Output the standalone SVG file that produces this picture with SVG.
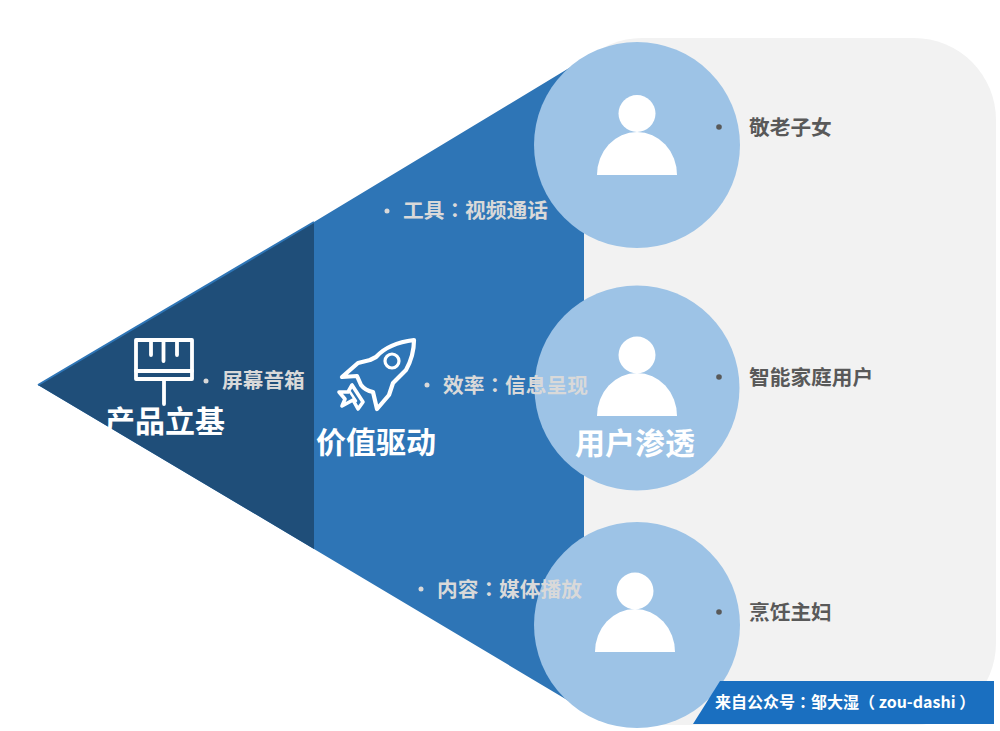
<svg xmlns="http://www.w3.org/2000/svg" width="1000" height="731" viewBox="0 0 1000 731">
<style>
text{font-family:"Noto Sans CJK SC","Noto Sans",sans-serif;font-weight:700}
.t{font-size:30px;fill:#fff}
.l{font-size:20.7px;fill:#d9d9d9}
.d{font-size:20.7px;fill:#595959}
.k{font-family:"Noto Sans CJK TC","Noto Sans",sans-serif}
.bl{fill:#d9d9d9}
.bd{fill:#595959}
.c{fill:#9dc3e6}
.p{fill:#fff}
.i{fill:none;stroke:#fff;stroke-width:3.8;stroke-linejoin:round;stroke-linecap:round}
</style>
<rect id="panel" x="560" y="38" width="436" height="687" rx="82" fill="#f2f2f2"/>
<g id="layer-value"><polygon points="38,385 314,222 584,59 584,710 314,549" fill="#2e75b6"/></g>
<g id="layer-product"><polygon points="38,385 314,222 314,549" fill="#1f4e79"/><path d="M38,385L314,222" stroke="#2e75b6" stroke-width="2" fill="none"/></g>
<g id="user-1"><circle class="c" cx="637" cy="145" r="103"/><circle class="p" cx="637" cy="113.5" r="18.5"/><path class="p" d="M597,175A40,43 0 0 1 677,175Z"/></g>
<g id="user-2"><circle class="c" cx="637" cy="388" r="102.5"/><circle class="p" cx="637" cy="355" r="18.5"/><path class="p" d="M597,416A40,43 0 0 1 677,416Z"/></g>
<g id="user-3"><circle class="c" cx="637" cy="625" r="103"/><circle class="p" cx="635" cy="591" r="18.5"/><path class="p" d="M595,652A40,43 0 0 1 675,652Z"/></g>
<g id="icon-brush" class="i">
<rect x="136" y="340" width="56" height="39"/>
<path d="M136,371H192M164,379V404M151,341V355M163.500,341V361M177,341V355"/>
</g>
<g id="icon-rocket" class="i">
<path d="M414,340C398,342 384,348 376,357L370,360L358,363L342,377L357,376L361,385C364,389 368,391 373,392L377,409L389,395L393,383L406,370C411,361 414,351 414,340Z" stroke-width="4.2"/>
<circle cx="392" cy="361" r="7" stroke-width="3.2"/>
<path d="M352,385L348,392L339,392L345,399L342,406L353,400L358,409L363,402Z" stroke-width="3.6"/>
<path d="M350,392L356,401" stroke-width="2.5"/>
</g>
<g id="label-product"><text class="t" x="105" y="432">产品立基</text><circle class="bl" cx="206" cy="381" r="2.5"/><text class="l" x="222" y="388">屏幕音箱</text></g>
<g id="label-value"><text class="t" x="316" y="453">价值驱动</text><circle class="bl" cx="387" cy="211" r="2.5"/><text class="l" x="403" y="218">工具<tspan class="k">：</tspan>视频通话</text><circle class="bl" cx="427" cy="385" r="2.5"/><text class="l" x="443" y="393">效率<tspan class="k">：</tspan>信息呈现</text><circle class="bl" cx="421" cy="589" r="2.5"/><text class="l" x="437" y="597">内容<tspan class="k">：</tspan>媒体播放</text></g>
<g id="label-user"><text class="t" x="575" y="454">用户渗透</text><circle class="bd" cx="719" cy="127" r="2.8"/><text class="d" x="749" y="135">敬老子女</text><circle class="bd" cx="719" cy="377" r="2.8"/><text class="d" x="749" y="385">智能家庭用户</text><circle class="bd" cx="719" cy="612" r="2.8"/><text class="d" x="749" y="620">烹饪主妇</text></g>
<g id="banner"><polygon points="720,681 994,681 994,724 693,724" fill="#1a6fc0"/><text x="715" y="708" font-size="16" fill="#fff">来自公众号<tspan class="k">：</tspan>邹大湿（ zou-dashi ）</text></g>
</svg>
